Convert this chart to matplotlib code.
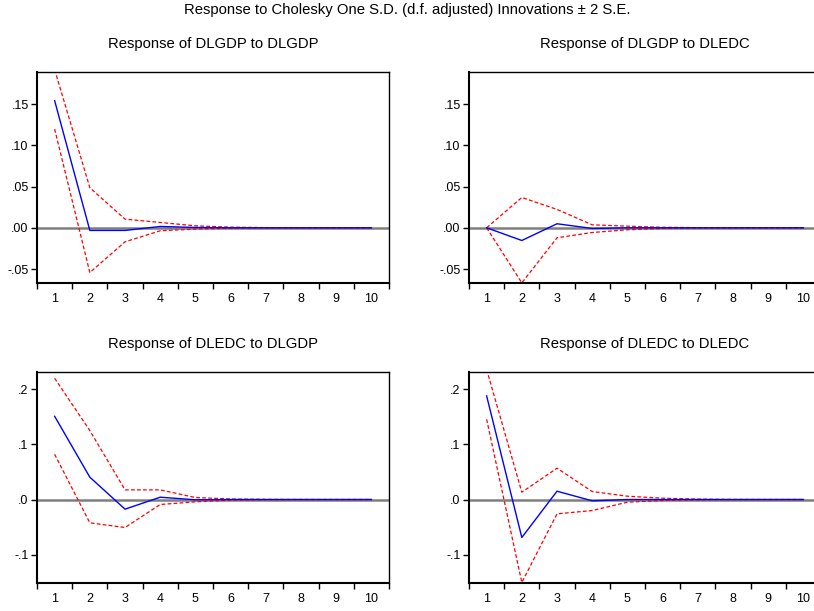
import matplotlib
matplotlib.use("Agg")
import matplotlib.pyplot as plt
import numpy as np

plt.rcParams["font.family"] = ["Liberation Sans", "DejaVu Sans"]

periods = list(range(1, 11))

# Response of DLGDP to DLGDP
gdp_gdp = [0.1543, -0.0032, -0.0032, 0.0016, 0.0004, 0.0, 0.0, 0.0, 0.0, 0.0]
gdp_gdp_hi = [0.192, 0.0486, 0.0105, 0.0065, 0.0024, 0.0008, 0.0002, 0.0, 0.0, 0.0]
gdp_gdp_lo = [0.1198, -0.0543, -0.017, -0.0036, -0.0016, -0.0004, -0.0001, 0.0, 0.0, 0.0]

# Response of DLGDP to DLEDC
gdp_edc = [0.0, -0.0154, 0.0049, -0.0008, 0.0, 0.0, 0.0, 0.0, 0.0, 0.0]
gdp_edc_hi = [0.0, 0.0368, 0.0223, 0.0036, 0.002, 0.0006, 0.0002, 0.0, 0.0, 0.0]
gdp_edc_lo = [0.0, -0.0668, -0.0121, -0.0057, -0.0024, -0.0008, -0.0002, 0.0, 0.0, 0.0]

# Response of DLEDC to DLGDP
edc_gdp = [0.151, 0.0405, -0.0175, 0.0042, -0.0005, 0.0, 0.0, 0.0, 0.0, 0.0]
edc_gdp_hi = [0.22, 0.125, 0.0175, 0.0175, 0.0036, 0.001, 0.0003, 0.0, 0.0, 0.0]
edc_gdp_lo = [0.082, -0.0423, -0.0508, -0.009, -0.0042, -0.0012, -0.0003, 0.0, 0.0, 0.0]

# Response of DLEDC to DLEDC
edc_edc = [0.188, -0.0689, 0.0151, -0.0024, 0.0, 0.0, 0.0, 0.0, 0.0, 0.0]
edc_edc_hi = [0.236, 0.0133, 0.0568, 0.0145, 0.006, 0.0024, 0.0008, 0.0002, 0.0, 0.0]
edc_edc_lo = [0.1456, -0.1505, -0.026, -0.02, -0.0048, -0.0018, -0.0006, -0.0002, 0.0, 0.0]

panels = [
    ("Response of DLGDP to DLGDP", gdp_gdp, gdp_gdp_hi, gdp_gdp_lo,
     [0.0455, 0.5368, 0.4324, 0.3453], (-0.067, 0.189),
     [-0.05, 0.0, 0.05, 0.10, 0.15], ["-.05", ".00", ".05", ".10", ".15"]),
    ("Response of DLGDP to DLEDC", gdp_edc, gdp_edc_hi, gdp_edc_lo,
     [0.5762, 0.5368, 0.4324, 0.3453], (-0.067, 0.189),
     [-0.05, 0.0, 0.05, 0.10, 0.15], ["-.05", ".00", ".05", ".10", ".15"]),
    ("Response of DLEDC to DLGDP", edc_gdp, edc_gdp_hi, edc_gdp_lo,
     [0.0455, 0.0458, 0.4324, 0.3453], (-0.1515, 0.2313),
     [-0.1, 0.0, 0.1, 0.2], ["-.1", ".0", ".1", ".2"]),
    ("Response of DLEDC to DLEDC", edc_edc, edc_edc_hi, edc_edc_lo,
     [0.5762, 0.0458, 0.4324, 0.3453], (-0.1515, 0.2313),
     [-0.1, 0.0, 0.1, 0.2], ["-.1", ".0", ".1", ".2"]),
]

fig = plt.figure(figsize=(8.14, 6.11), dpi=100)
fig.text(0.5, 0.983, "Response to Cholesky One S.D. (d.f. adjusted) Innovations \u00b1 2 S.E.",
         ha="center", va="center", fontsize=10.7)

for title, resp, hi, lo, pos, ylim, yt, ytl in panels:
    ax = fig.add_axes(pos)
    ax.axhline(0, color="#7f7f7f", linewidth=1.8, zorder=1)
    ax.plot(periods, resp, color="blue", linewidth=1.0, zorder=3)
    ax.plot(periods, hi, color="red", linewidth=0.9, linestyle=(0, (3, 1.8)), zorder=2)
    ax.plot(periods, lo, color="red", linewidth=0.9, linestyle=(0, (3, 1.8)), zorder=2)
    ax.set_xlim(0.5, 10.5)
    ax.set_ylim(*ylim)
    ax.set_xticks(np.arange(0.5, 11, 1.0))
    ax.set_xticklabels([])
    ax.set_xticks(periods, minor=True)
    ax.set_xticklabels([str(p) for p in periods], minor=True)
    ax.tick_params(axis="x", which="minor", length=0, labelsize=9, pad=7.5)
    ax.tick_params(axis="x", which="major", length=4, width=1, direction="out")
    ax.set_yticks(yt)
    ax.set_yticklabels(ytl)
    ax.tick_params(axis="y", length=4, width=1, labelsize=9, direction="out", pad=2)
    for side in ["left", "bottom"]:
        ax.spines[side].set_linewidth(1.5)
    for side in ["top", "right"]:
        ax.spines[side].set_linewidth(1.0)
    ax.set_title(title, fontsize=10.7, pad=17)

fig.savefig("out.png", dpi=100)
